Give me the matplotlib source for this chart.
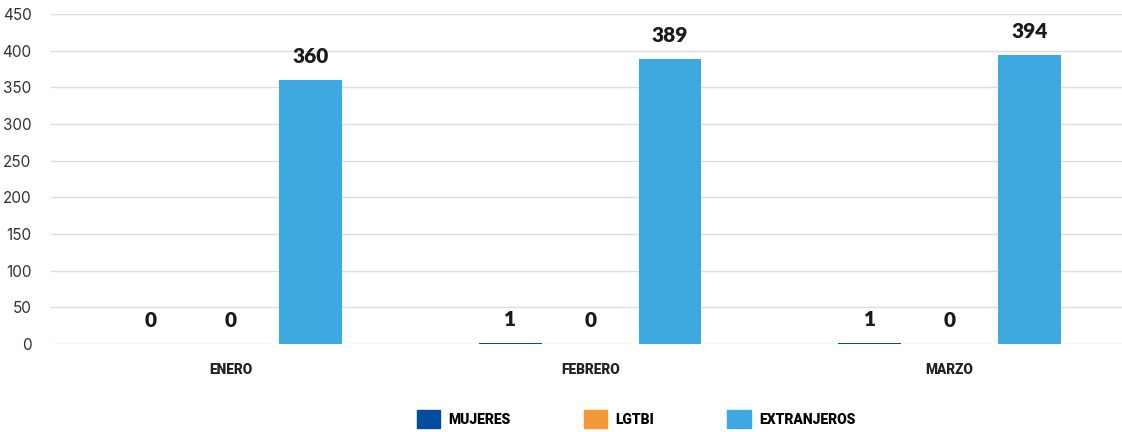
import numpy as np
import matplotlib
matplotlib.use("Agg")
import matplotlib.pyplot as plt
from matplotlib.patches import Patch

months = ["ENERO", "FEBRERO", "MARZO"]
series = ["MUJERES", "LGTBI", "EXTRANJEROS"]
mujeres = [0, 1, 1]
lgtbi = [0, 0, 0]
extranjeros = [360, 389, 394]
colors = ["#004c9d", "#f4993a", "#3ea8e0"]

plt.rcParams["font.family"] = ["Lato", "DejaVu Sans"]

fig = plt.figure(figsize=(11.22, 4.32), dpi=100)
ax = fig.add_axes([0.0455, 0.2037, 0.961, 0.7639])

x = np.arange(len(months))
step = 0.222
width = 0.175
for i, (name, vals) in enumerate(zip(series, [mujeres, lgtbi, extranjeros])):
    pos = x + (i - 1) * step
    ax.bar(pos, vals, width=width, color=colors[i], zorder=3, label=name)
    for px, v in zip(pos, vals):
        ax.annotate(str(v), (px, v), xytext=(0, 17), textcoords="offset points",
                    ha="center", va="center", fontsize=15, fontweight="heavy",
                    color="#1a1a1a")

ax.set_xlim(-0.5, 2.5)
ax.set_ylim(0, 450)
ax.set_yticks(range(0, 451, 50))
ax.yaxis.grid(True, color="#dddddd", linewidth=1, zorder=0)
ax.set_axisbelow(True)
for s in ax.spines.values():
    s.set_visible(False)
ax.tick_params(axis="y", length=0, pad=14, labelsize=11, labelcolor="#333333")
ax.tick_params(axis="x", length=0, pad=14)
ax.set_xticks(x)
ax.set_xticklabels(months, fontsize=9.8, fontweight="heavy", color="#222222",
                   family=["Roboto", "DejaVu Sans"])
for lbl in ax.get_yticklabels():
    lbl.set_fontfamily(["Inter", "DejaVu Sans"])

handles = [Patch(color=c, label=n) for c, n in zip(colors, series)]
fig.legend(handles=handles, loc="center", bbox_to_anchor=(0.567, 0.03),
           ncol=3, frameon=False, handlelength=1.7, handleheight=1.7,
           handletextpad=0.6, columnspacing=5.25,
           prop={"family": "Roboto", "weight": "heavy", "size": 10})

fig.savefig("out.png", dpi=100)
